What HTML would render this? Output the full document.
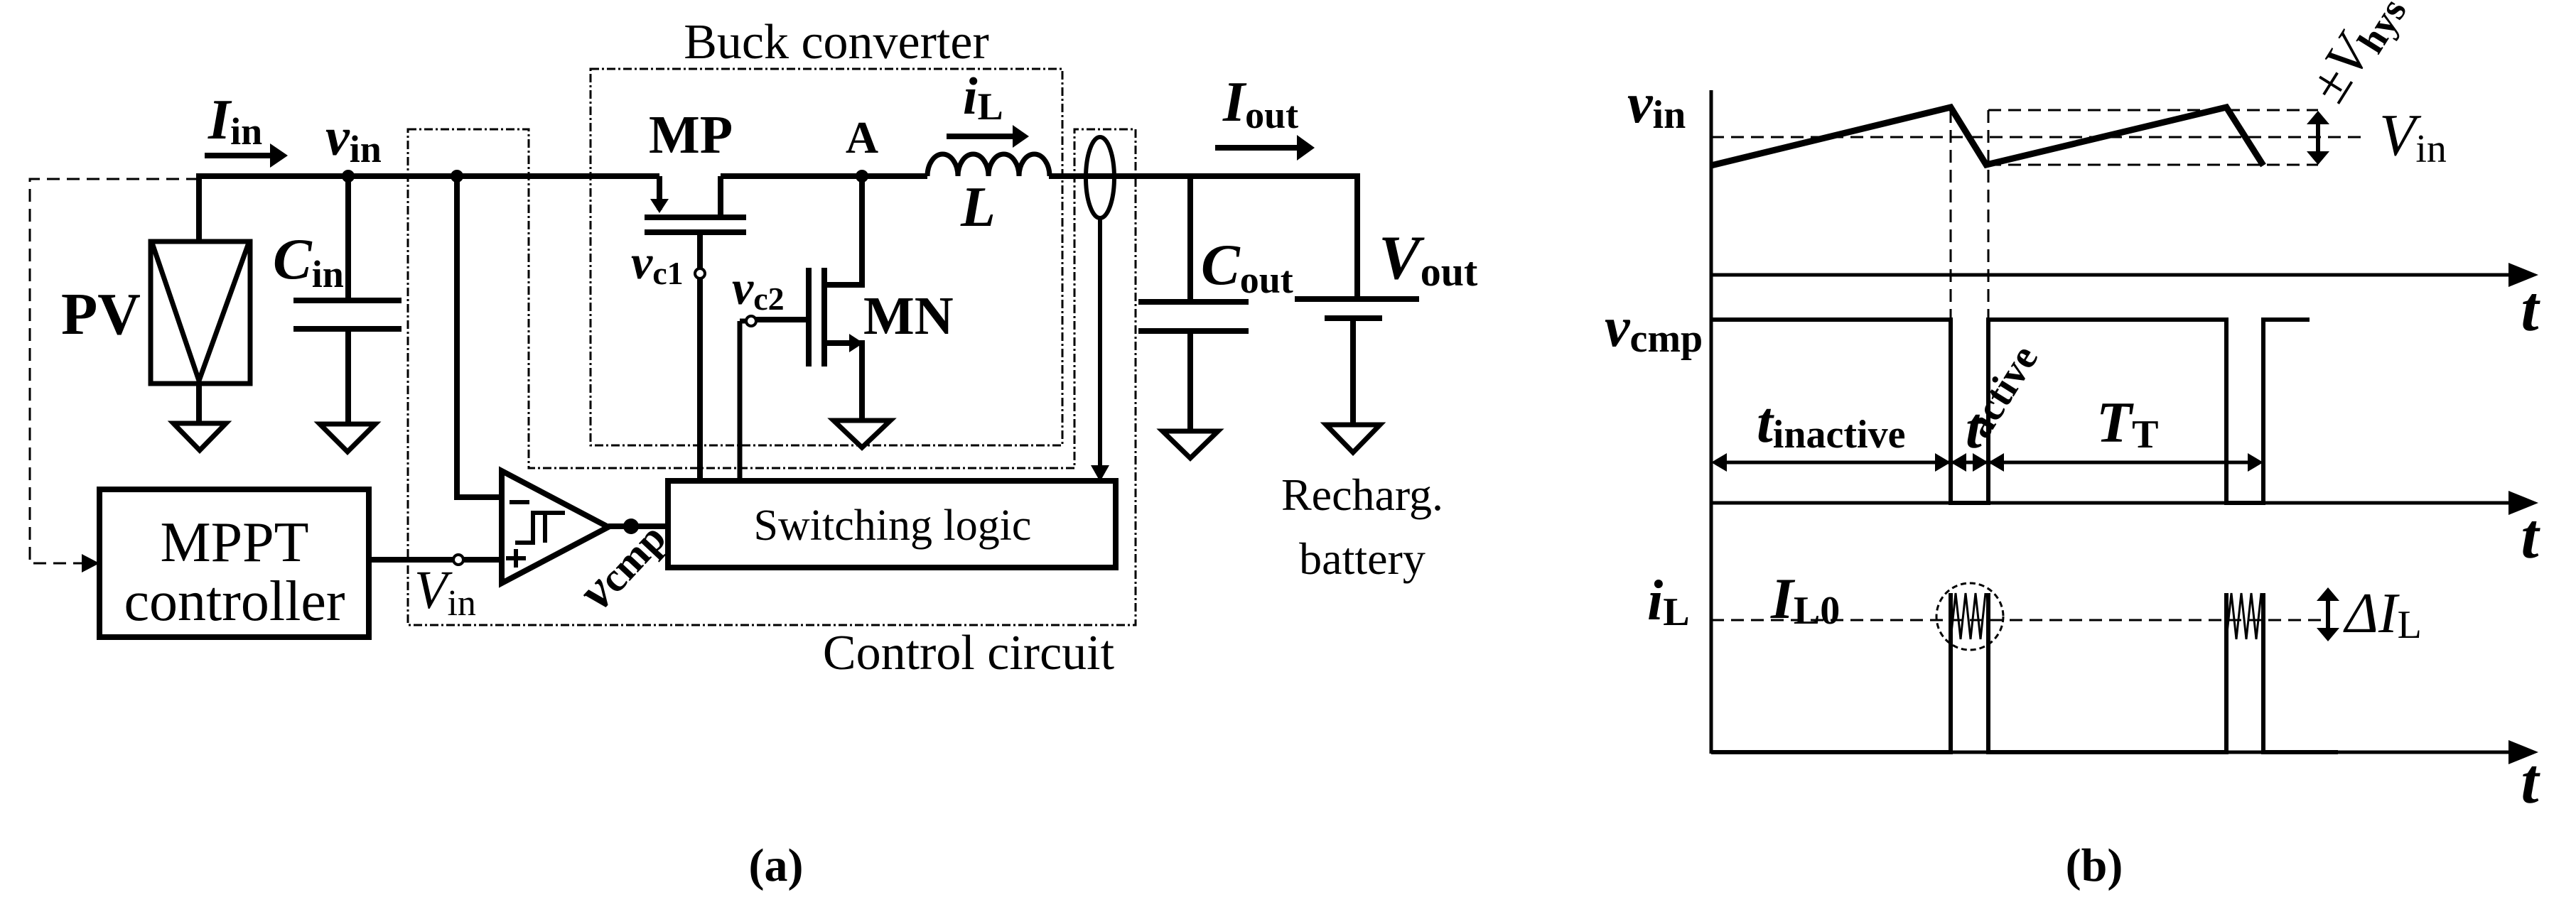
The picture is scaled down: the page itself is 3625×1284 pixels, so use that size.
<!DOCTYPE html>
<html><head><meta charset="utf-8"><style>
html,body{margin:0;padding:0;background:#fff;}
svg{display:block;}
text{font-family:"Liberation Serif",serif;fill:#000;}
.b{font-weight:bold;}
.i{font-style:italic;}
</style></head><body>
<svg width="3625" height="1284" viewBox="0 0 3625 1284" xmlns="http://www.w3.org/2000/svg">
<g fill="none" stroke="#000" stroke-width="8">
<polyline points="280,252 42,252 42,793 125,793" stroke-width="3" stroke-dasharray="18,10"/>
<path d="M115,780 L140,793 L115,806 z" fill="#000" stroke="none"/>
<polyline points="280,340 280,248 928,248"/>
<line x1="1014" y1="248" x2="1305" y2="248"/>
<path d="M1305,248 a21.5,31 0 0 1 43,0 a21.5,31 0 0 1 43,0 a21.5,31 0 0 1 43,0 a21.5,31 0 0 1 43,0" stroke-width="7"/>
<polyline points="1476,248 1910,248 1910,420"/>
<line x1="288" y1="219" x2="385" y2="219"/>
<path d="M380,202 L405,219 L380,236 z" fill="#000" stroke="none"/>
<rect x="212" y="340" width="140" height="200" stroke-width="7"/>
<polyline points="214,342 280,536 350,342" stroke-width="7"/>
<line x1="280" y1="540" x2="280" y2="596"/>
<path d="M244,596 L318,596 L281,634 z" stroke-width="7"/>
<circle cx="490" cy="248" r="9" fill="#000" stroke="none"/>
<line x1="490" y1="248" x2="490" y2="423"/>
<line x1="413" y1="423" x2="565" y2="423"/>
<line x1="413" y1="463" x2="565" y2="463"/>
<line x1="490" y1="463" x2="490" y2="597"/>
<path d="M450,597 L528,597 L489,636 z" stroke-width="7"/>
<circle cx="643" cy="248" r="9" fill="#000" stroke="none"/>
<polyline points="643,248 643,700 706,700"/>
<line x1="928" y1="248" x2="928" y2="295"/>
<path d="M915,280 L941,280 L928,300 z" fill="#000" stroke="none"/>
<polyline points="1014,248 1014,305"/>
<line x1="907" y1="306" x2="1050" y2="306"/>
<line x1="907" y1="327" x2="1050" y2="327"/>
<line x1="985" y1="327" x2="985" y2="378"/>
<circle cx="985" cy="385" r="7" fill="#fff" stroke-width="4"/>
<line x1="985" y1="392" x2="985" y2="676"/>
<circle cx="1213" cy="248" r="9" fill="#000" stroke="none"/>
<polyline points="1213,248 1213,401 1162,401"/>
<line x1="1160" y1="377" x2="1160" y2="516"/>
<line x1="1138" y1="377" x2="1138" y2="516"/>
<polyline points="1162,483 1213,483 1213,592"/>
<path d="M1195,470 L1215,483 L1195,496 z" fill="#000" stroke="none"/>
<path d="M1173,592 L1253,592 L1213,630 z" stroke-width="7"/>
<line x1="1064" y1="450" x2="1138" y2="450"/>
<circle cx="1057" cy="452" r="7" fill="#fff" stroke-width="4"/>
<line x1="1041" y1="452" x2="1041" y2="676" stroke-width="7"/>
<line x1="1041" y1="452" x2="1050" y2="452" stroke-width="7"/>
<line x1="1332" y1="192" x2="1430" y2="192"/>
<path d="M1425,176 L1448,192 L1425,208 z" fill="#000" stroke="none"/>
<ellipse cx="1548" cy="250" rx="20" ry="57" stroke-width="6"/>
<line x1="1548" y1="307" x2="1548" y2="660" stroke-width="6"/>
<path d="M1535,655 L1561,655 L1548,678 z" fill="#000" stroke="none"/>
<line x1="1675" y1="248" x2="1675" y2="425"/>
<line x1="1602" y1="425" x2="1757" y2="425"/>
<line x1="1602" y1="466" x2="1757" y2="466"/>
<line x1="1675" y1="466" x2="1675" y2="607"/>
<path d="M1636,607 L1714,607 L1675,645 z" stroke-width="7"/>
<line x1="1710" y1="208" x2="1830" y2="208"/>
<path d="M1825,190 L1850,208 L1825,226 z" fill="#000" stroke="none"/>
<line x1="1822" y1="421" x2="1997" y2="421"/>
<line x1="1864" y1="448" x2="1945" y2="448"/>
<line x1="1904" y1="448" x2="1904" y2="598"/>
<path d="M1866,598 L1942,598 L1904,637 z" stroke-width="7"/>
<path d="M706,663 L706,821 L856,742 z"/>
<line x1="717" y1="707" x2="745" y2="707" stroke-width="6"/>
<polyline points="725,764 750,764 750,722 795,722" stroke-width="6"/>
<polyline points="767,722 767,764" stroke-width="6"/>
<line x1="712" y1="786" x2="740" y2="786" stroke-width="6"/>
<line x1="726" y1="773" x2="726" y2="799" stroke-width="6"/>
<line x1="519" y1="788" x2="638" y2="788"/>
<circle cx="645" cy="788" r="7" fill="#fff" stroke-width="4"/>
<line x1="652" y1="788" x2="706" y2="788"/>
<circle cx="888" cy="741" r="11" fill="#000" stroke="none"/>
<line x1="856" y1="741" x2="939" y2="741"/>
<rect x="940" y="677" width="630" height="122"/>
<rect x="140" y="689" width="379" height="208"/>
</g>
<g fill="none" stroke="#000" stroke-width="3" stroke-dasharray="12,4,3,4">
<rect x="831" y="97" width="664" height="530"/>
<polygon points="574,182 744,182 744,659 1512,659 1512,182 1598,182 1598,880 574,880"/>
</g>
<text x="1177" y="82" font-size="70" text-anchor="middle">Buck converter</text>
<text x="1363" y="942" font-size="70" text-anchor="middle">Control circuit</text>
<text x="1256" y="760" font-size="62" text-anchor="middle">Switching logic</text>
<text x="330" y="790" font-size="80" text-anchor="middle">MPPT</text>
<text x="330" y="873" font-size="80" text-anchor="middle">controller</text>
<text x="86" y="470" font-size="84" class="b">PV</text>
<text x="293" y="195" font-size="80" class="b i">I<tspan font-size="54" font-style="normal" dy="8">in</tspan></text>
<text x="458" y="218" font-size="76" class="b i">v<tspan font-size="54" font-style="normal" dy="10">in</tspan></text>
<text x="384" y="392" font-size="82" class="b i">C<tspan font-size="54" font-style="normal" dy="12">in</tspan></text>
<text x="913" y="215" font-size="76" class="b">MP</text>
<text x="1213" y="215" font-size="64" class="b" text-anchor="middle">A</text>
<text x="888" y="392" font-size="68" class="b i">v<tspan font-size="46" font-style="normal" dy="8">c1</tspan></text>
<text x="1030" y="428" font-size="68" class="b i">v<tspan font-size="46" font-style="normal" dy="8">c2</tspan></text>
<text x="1215" y="470" font-size="76" class="b">MN</text>
<text x="1355" y="160" font-size="74" class="b i">i<tspan font-size="54" font-style="normal" dy="8">L</tspan></text>
<text x="1352" y="318" font-size="80" class="b i">L</text>
<text x="1690" y="400" font-size="82" class="b i">C<tspan font-size="54" font-style="normal" dy="12">out</tspan></text>
<text x="1721" y="170" font-size="80" class="b i">I<tspan font-size="54" font-style="normal" dy="10">out</tspan></text>
<text x="1940" y="392" font-size="88" class="b i">V<tspan font-size="58" font-style="normal" dy="10">out</tspan></text>
<text x="583" y="856" font-size="76" class="i">V<tspan font-size="52" font-style="normal" dy="10">in</tspan></text>
<text x="845" y="862" font-size="74" class="b i" transform="rotate(-47 845 862)">v<tspan font-size="58" font-style="normal">cmp</tspan></text>
<text x="1917" y="718" font-size="64" text-anchor="middle">Recharg.</text>
<text x="1917" y="808" font-size="64" text-anchor="middle">battery</text>
<text x="1092" y="1240" font-size="66" class="b" text-anchor="middle">(a)</text>
<g fill="none" stroke="#000">
<line x1="2408" y1="127" x2="2408" y2="1061" stroke-width="5"/>
<line x1="2408" y1="387" x2="3545" y2="387" stroke-width="5"/>
<path d="M3530,370 L3572,387 L3530,404 z" fill="#000" stroke="none"/>
<line x1="2408" y1="708" x2="3545" y2="708" stroke-width="5"/>
<path d="M3530,691 L3572,708 L3530,725 z" fill="#000" stroke="none"/>
<line x1="2408" y1="1059" x2="3545" y2="1059" stroke-width="5"/>
<path d="M3530,1042 L3572,1059 L3530,1076 z" fill="#000" stroke="none"/>
<g stroke-width="3" stroke-dasharray="18,10">
<line x1="2408" y1="193" x2="3325" y2="193"/>
<line x1="2798" y1="155" x2="3262" y2="155"/>
<line x1="2798" y1="232" x2="3262" y2="232"/>
<line x1="2745" y1="155" x2="2745" y2="708"/>
<line x1="2798" y1="155" x2="2798" y2="708"/>
<line x1="2408" y1="873" x2="3270" y2="873"/>
</g>
<circle cx="2772" cy="868" r="47" stroke-width="3" stroke-dasharray="8,5"/>
<polyline points="2408,233 2745,151 2795,232 3133,151 3185,233" stroke-width="9"/>
<line x1="3262" y1="170" x2="3262" y2="218" stroke-width="6"/>
<path d="M3246,175 L3278,175 L3262,156 z M3246,213 L3278,213 L3262,232 z" fill="#000" stroke="none"/>
<polyline points="2408,450 2745,450 2745,708 2798,708 2798,450 3133,450 3133,708 3185,708 3185,450 3250,450" stroke-width="6"/>
<line x1="2425" y1="651" x2="3170" y2="651" stroke-width="5"/>
<path d="M2408,651 L2430,638 L2430,664 z M2745,651 L2723,638 L2723,664 z M2745,651 L2767,638 L2767,664 z M2798,651 L2776,638 L2776,664 z M2798,651 L2820,638 L2820,664 z M3185,651 L3163,638 L3163,664 z" fill="#000" stroke="none"/>
<polyline points="2408,1059 2745,1059 2745,835" stroke-width="6"/>
<polyline points="2798,835 2798,1059 3133,1059 3133,835" stroke-width="6"/>
<polyline points="3185,835 3185,1059 3290,1059" stroke-width="6"/>
<polyline points="2745,900 2752,835 2759,900 2766,835 2773,900 2780,835 2787,900 2794,835" stroke-width="3"/>
<polyline points="3133,900 3140,835 3147,900 3154,835 3161,900 3168,835 3175,900 3182,835" stroke-width="3"/>
<line x1="3276" y1="845" x2="3276" y2="885" stroke-width="6"/>
<path d="M3260,846 L3292,846 L3276,827 z M3260,884 L3292,884 L3276,903 z" fill="#000" stroke="none"/>
</g>
<text x="2290" y="172" font-size="80" class="b i">v<tspan font-size="56" font-style="normal" dy="8">in</tspan></text>
<text x="2258" y="487" font-size="80" class="b i">v<tspan font-size="56" font-style="normal" dy="8">cmp</tspan></text>
<text x="2318" y="872" font-size="80" class="b i">i<tspan font-size="56" font-style="normal" dy="8">L</tspan></text>
<text x="2492" y="870" font-size="82" class="b i">I<tspan font-size="56" font-style="normal" dy="8">L0</tspan></text>
<text x="2472" y="622" font-size="82" class="b i">t<tspan font-size="56" font-style="normal" dy="8">inactive</tspan></text>
<text x="2766" y="630" font-size="82" class="b i">t</text>
<text x="2795" y="620" font-size="56" class="b" transform="rotate(-58 2795 620)">active</text>
<text x="2950" y="622" font-size="82" class="b i">T<tspan font-size="56" font-style="normal" dy="8">T</tspan></text>
<text x="3348" y="218" font-size="84" class="i">V<tspan font-size="56" font-style="normal" dy="10">in</tspan></text>
<text x="3290" y="150" font-size="78" class="i" transform="rotate(-58 3290 150)">±V<tspan font-size="54" font-style="normal" class="b" dy="10">hys</tspan></text>
<text x="3300" y="890" font-size="80" class="i">ΔI<tspan font-size="56" font-style="normal" dy="8">L</tspan></text>
<text x="3560" y="465" font-size="90" class="b i" text-anchor="middle">t</text>
<text x="3560" y="785" font-size="90" class="b i" text-anchor="middle">t</text>
<text x="3560" y="1130" font-size="90" class="b i" text-anchor="middle">t</text>
<text x="2947" y="1240" font-size="66" class="b" text-anchor="middle">(b)</text>
</svg>
</body></html>
